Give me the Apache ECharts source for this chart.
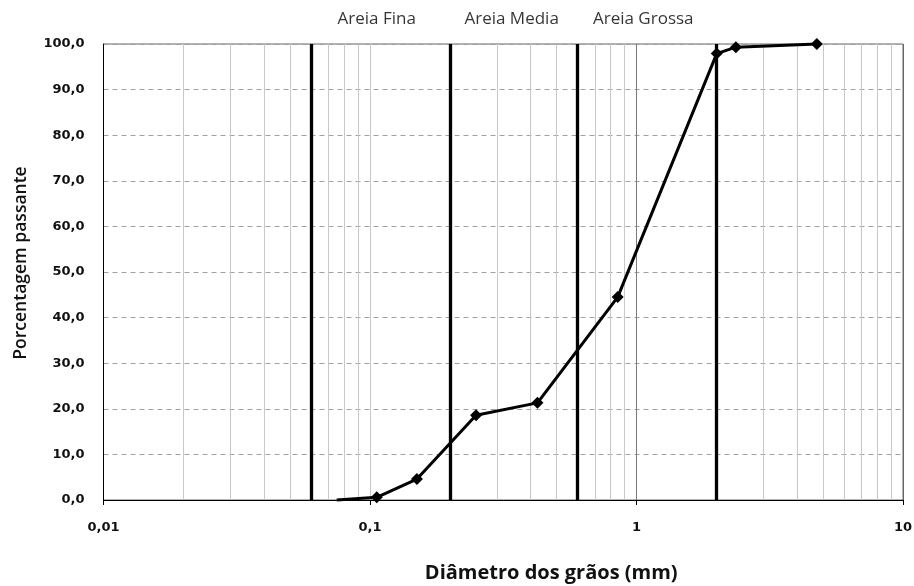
<!DOCTYPE html>
<html>
<head>
<meta charset="utf-8">
<script src="https://cdn.jsdelivr.net/npm/echarts@6/dist/echarts.min.js"></script>
<style>
html,body{margin:0;padding:0;background:#fff;}
#chart{width:914px;height:586px;}
</style>
</head>
<body>
<div id="chart"></div>
<script>
// Sieve sizes (mm) and percent passing
const sieveSizes = [0.075, 0.106, 0.15, 0.25, 0.425, 0.85, 2.0, 2.36, 4.75];
const percentPassing = [0.0, 0.6, 4.6, 18.6, 21.3, 44.5, 97.9, 99.3, 100.0];
// Sand class boundaries (mm)
const boundaries = [0.06, 0.2, 0.6, 2.0];
const zoneNames = ['Areia Fina', 'Areia Media', 'Areia Grossa'];
const zoneLabelX = [0.106, 0.34, 1.06];
// Axis ticks
const xTicks = [0.01, 0.1, 1, 10];
const yMin = 0, yMax = 100, yStep = 10;

const minorGrid = [];
for (let d = 0; d < xTicks.length - 1; d++) {
  for (let m = 2; m <= 9; m++) minorGrid.push(+(xTicks[d] * m).toPrecision(3));
}

const chart = echarts.init(document.getElementById('chart'));
const fmtNum = v => String(v).replace('.', ',');

chart.setOption({
  animation: false,
  backgroundColor: '#fff',
  grid: { left: 103.5, right: 11, top: 44, bottom: 86, outerBoundsMode: 'none', containLabel: false, show: true, borderColor: '#666', borderWidth: 1, backgroundColor: 'transparent' },
  xAxis: {
    type: 'log', logBase: 10, min: xTicks[0], max: xTicks[xTicks.length - 1],
    axisLine: { lineStyle: { color: '#000', width: 1 } },
    axisTick: { show: true, length: 5, inside: false, lineStyle: { color: '#000' } },
    axisLabel: { formatter: fmtNum, fontFamily: 'DejaVu Sans', fontWeight: 'bold', fontSize: 13, color: '#111', margin: 21 },
    splitLine: { show: true, lineStyle: { color: ['#c8c8c8', '#c8c8c8', '#7a7a7a', '#666'], width: 1 } },
    name: 'Diâmetro dos grãos (mm)', nameLocation: 'middle', nameGap: 63,
    nameTextStyle: { fontFamily: 'Open Sans', fontWeight: 'bold', fontSize: 20, color: '#111', padding: [0, 0, 0, 96] }
  },
  yAxis: {
    type: 'value', min: yMin, max: yMax, interval: yStep,
    axisLine: { show: true, lineStyle: { color: '#000', width: 1 } },
    axisTick: { show: false },
    axisLabel: { formatter: v => v.toFixed(1).replace('.', ','), fontFamily: 'DejaVu Sans', fontWeight: 'bold', fontSize: 13, color: '#111', margin: 19 },
    splitLine: { show: true, lineStyle: { color: '#a0a0a0', type: [5, 4], width: 1 } },
    name: 'Porcentagem passante', nameLocation: 'middle', nameGap: 73, nameRotate: 90,
    nameTextStyle: { fontFamily: 'Open Sans', fontWeight: 600, fontSize: 17.5, color: '#111', padding: [0, 0, 0, 18] }
  },
  series: [
    {
      type: 'line', data: [], silent: true, z: 1,
      markLine: {
        silent: true, symbol: 'none', animation: false,
        label: { show: false },
        lineStyle: { color: '#c8c8c8', width: 1, type: 'solid' },
        data: minorGrid.map(v => ({ xAxis: v }))
      }
    },
    {
      type: 'line', data: [], silent: true, z: 3,
      markLine: {
        silent: true, symbol: 'none', animation: false,
        label: { show: false },
        lineStyle: { color: '#000', width: 3.3, type: 'solid' },
        data: boundaries.map(v => ({ xAxis: v }))
      }
    },
    {
      type: 'line', z: 5,
      data: sieveSizes.map((x, i) => i === 0 ? { value: [x, percentPassing[i]], symbol: 'none' } : [x, percentPassing[i]]),
      symbol: 'diamond', symbolSize: 12, showAllSymbol: true,
      lineStyle: { color: '#000', width: 3 },
      itemStyle: { color: '#000' },
      clip: false
    },
    {
      type: 'scatter', z: 6, silent: true,
      data: zoneLabelX.map((x, i) => ({ value: [x, yMax], name: zoneNames[i] })),
      symbolSize: 0,
      label: { show: true, position: 'top', distance: 16, formatter: p => p.name, fontFamily: 'Open Sans', fontSize: 17, color: '#000' }
    }
  ]
});
</script>
</body>
</html>
